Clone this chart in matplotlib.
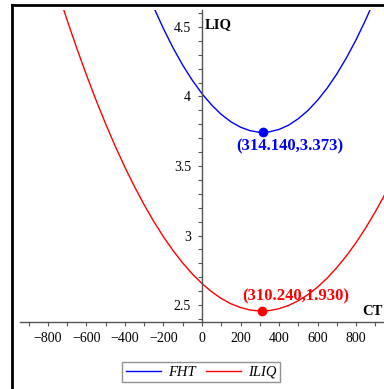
import matplotlib.pyplot as plt
from matplotlib.lines import Line2D
from matplotlib.ticker import MultipleLocator

# values
ct_fht = [-300, -250, -200, -150, -100, -50, 0, 50, 100, 150, 200, 250, 300, 314.14,
          350, 400, 450, 500, 550, 600, 650, 700, 750, 800, 850, 900]
liq_fht = [4.805, 4.639, 4.487, 4.349, 4.225, 4.116, 4.020, 3.939, 3.871, 3.818, 3.779,
           3.754, 3.742, 3.742, 3.746, 3.763, 3.794, 3.840, 3.899, 3.973, 4.060, 4.162,
           4.278, 4.408, 4.552, 4.710]

ct_iliq = [-800, -750, -700, -650, -600, -550, -500, -450, -400, -350, -300, -250, -200,
           -150, -100, -50, 0, 50, 100, 150, 200, 250, 300, 310.24, 350, 400, 450, 500,
           550, 600, 650, 700, 750, 800, 850, 900, 950, 1000]
liq_iliq = [4.983, 4.760, 4.548, 4.346, 4.155, 3.973, 3.802, 3.641, 3.490, 3.350, 3.220,
            3.100, 2.990, 2.891, 2.802, 2.723, 2.654, 2.596, 2.547, 2.509, 2.482, 2.464,
            2.457, 2.457, 2.460, 2.474, 2.497, 2.531, 2.575, 2.629, 2.694, 2.769, 2.854,
            2.949, 3.055, 3.171, 3.297, 3.433]

min_fht = (314.140, 3.742)
min_iliq = (310.240, 2.457)
label_fht = '(314.140,3.373)'
label_iliq = '(310.240,1.930)'

plt.rcParams['font.family'] = ['Liberation Serif', 'DejaVu Serif']

fig = plt.figure(figsize=(3.84, 3.89), dpi=100)
ax = fig.add_axes([20 / 384, 1 - 322 / 389, 1 - 20 / 384, 312 / 389])

ax.plot(ct_fht, liq_fht, color='#0000ff', lw=1.0, label='FHT')
ax.plot(ct_iliq, liq_iliq, color='#ff0000', lw=1.0, label='ILIQ')
ax.plot(*min_fht, 'o', color='#0000ff', ms=6)
ax.plot(*min_iliq, 'o', color='#ff0000', ms=6)

ax.text(457, 3.642, label_fht, color='#0000ff',
        fontsize=12, fontweight='bold', ha='center', va='center')
ax.text(488, 2.565, label_iliq, color='#ff0000',
        fontsize=12, fontweight='bold', ha='center', va='center')

ax.set_xlim(-945, 945)
ax.set_ylim(2.378, 4.622)

ax.spines['top'].set_visible(False)
ax.spines['right'].set_visible(False)
ax.spines['left'].set_position(('data', 0))
for s in ('left', 'bottom'):
    ax.spines[s].set_color('#555555')
    ax.spines[s].set_linewidth(1.0)

ax.set_xticks([-800, -600, -400, -200, 0, 200, 400, 600, 800])
ax.set_yticks([2.5, 3, 3.5, 4, 4.5])
ax.set_yticklabels(['2.5', '3', '3.5', '4', '4.5'])
ax.xaxis.set_minor_locator(MultipleLocator(100))
ax.yaxis.set_minor_locator(MultipleLocator(0.1))
ax.tick_params(which='both', length=3, width=0.8, color='#555555', labelsize=10, pad=4)
ax.tick_params(axis='y', pad=5)

ax.text(16, 4.52, 'LIQ', fontsize=10.5, fontweight='bold', va='center')
ax.text(940, 2.455, 'CT', fontsize=10.5, fontweight='bold', ha='right', va='center')

fig.legend(loc='center', bbox_to_anchor=(201 / 384, 1 - 372 / 389), ncol=2,
           prop={'style': 'italic', 'size': 10.5}, frameon=True, fancybox=False,
           edgecolor='#777777', handlelength=2.4, columnspacing=0.7,
           borderpad=0.25, handletextpad=0.5, borderaxespad=0)

# outer frame
fig.add_artist(Line2D([12 / 384, 12 / 384], [0, 1 - 5 / 389], color='black', lw=2))
fig.add_artist(Line2D([12 / 384, 1], [1 - 5 / 389, 1 - 5 / 389], color='black', lw=2))

fig.savefig('out.png', dpi=100)
